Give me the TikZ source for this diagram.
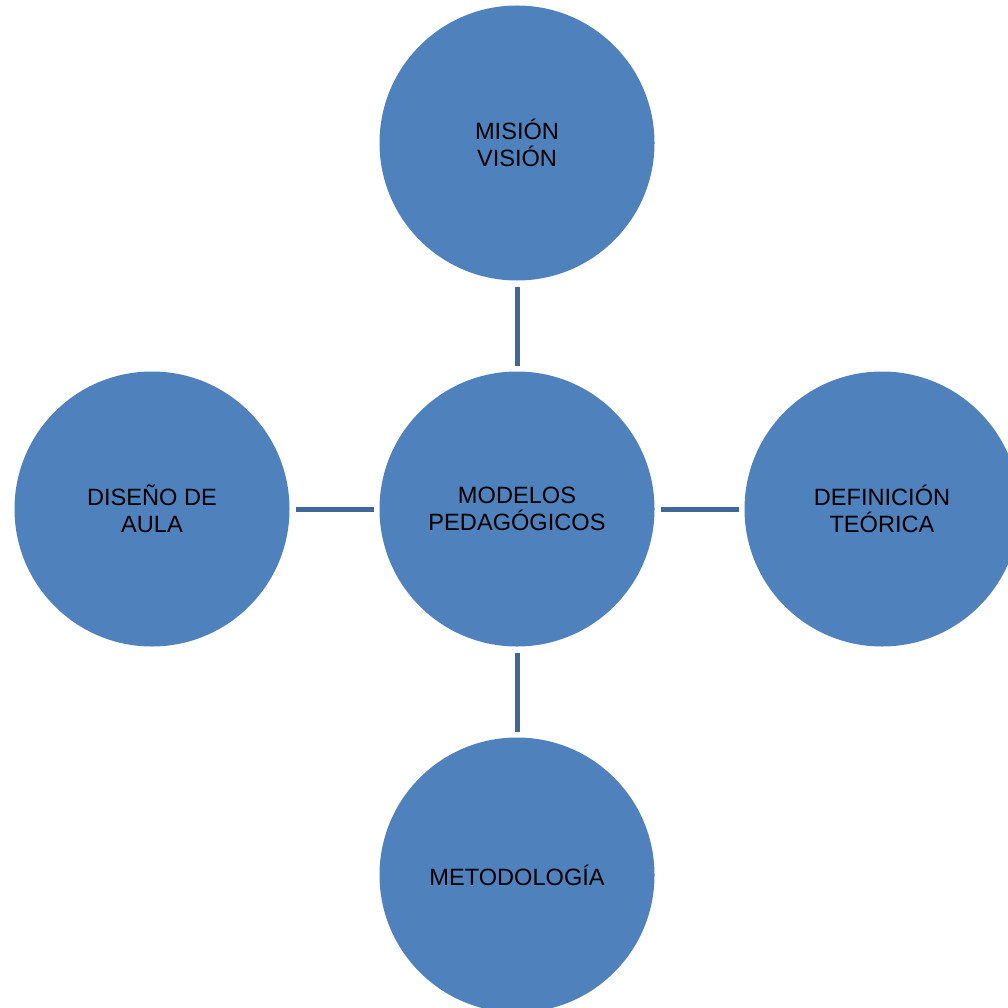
\documentclass[tikz,border=0pt]{standalone}
\usepackage{fontspec}
\setmainfont{Liberation Sans}
\definecolor{circfill}{HTML}{4F81BD}
\definecolor{linkcol}{HTML}{3F6797}
\begin{document}
\begin{tikzpicture}[x=1pt,y=-1pt,
  bubble/.style={circle,fill=circfill,draw=none,minimum size=275pt,inner sep=0pt,outer sep=0pt,
    align=center,font=\fontsize{23.6}{27.5}\selectfont,text=black},
  link/.style={draw=linkcol,line width=5pt,shorten <=6pt,shorten >=6pt}]
\clip (0,0) rectangle (1008,1008);
\useasboundingbox (0,0) rectangle (1008,1008);
\node[bubble] (c) at (517,509) {MODELOS\\PEDAGÓGICOS};
\node[bubble] (t) at (517,143) {MISIÓN\\VISIÓN};
\node[bubble] (l) at (152,509) {DISEÑO DE\\AULA};
\node[bubble] (r) at (882,509) {DEFINICIÓN\\TEÓRICA};
\node[bubble] (b) at (517,875) {METODOLOGÍA};
\draw[link] (t) -- (c);
\draw[link] (c) -- (b);
\draw[link] (l) -- (c);
\draw[link] (c) -- (r);
\end{tikzpicture}
\end{document}
